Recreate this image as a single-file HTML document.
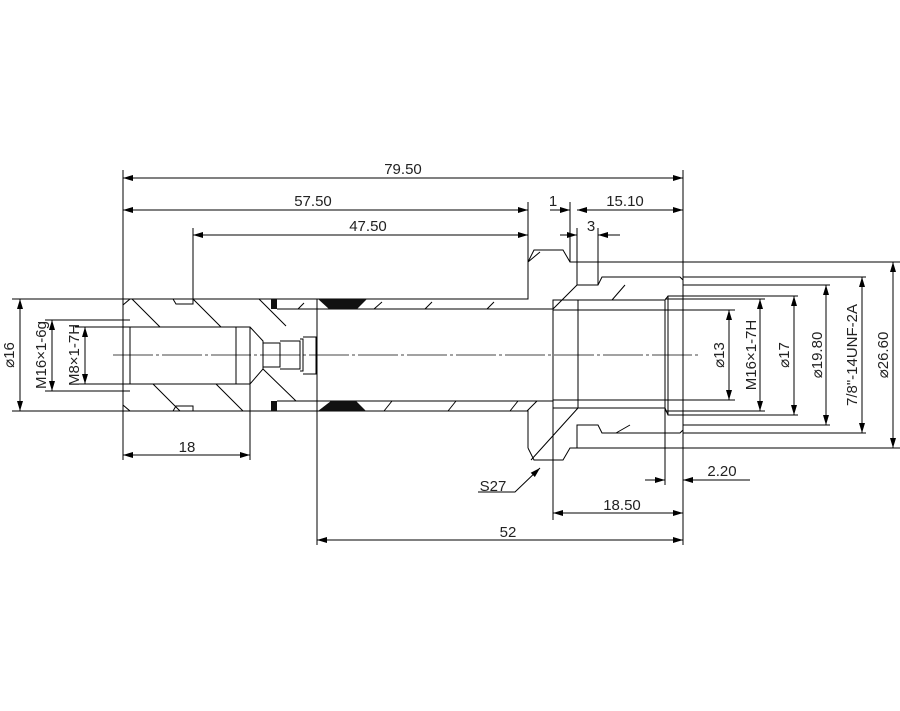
<!DOCTYPE html>
<html><head><meta charset="utf-8"><style>
body{margin:0;background:#fff}
svg{display:block}
text{font-family:"Liberation Sans",sans-serif;font-size:15px;fill:#222}
</style></head><body>
<svg width="900" height="711" viewBox="0 0 900 711" xmlns="http://www.w3.org/2000/svg">
<defs>
<marker id="a" viewBox="0 0 10 6" refX="10" refY="3" markerWidth="10" markerHeight="6" orient="auto-start-reverse" markerUnits="userSpaceOnUse"><path d="M0,0L10,3L0,6z" fill="#000"/></marker>
</defs>
<g stroke="#000" stroke-width="1" fill="none">
<line x1="113" y1="355" x2="700" y2="355" stroke-dasharray="40,3,3,3" stroke="#444"/>
<path d="M123,299 H528 V262"/>
<path d="M123,411 H528 V448"/>
<line x1="123" y1="299" x2="123" y2="411"/>
<path d="M123,305 L130,299 M123,405 L130,411"/>
<path d="M173,299 L176,304 H193 V299 M173,411 L176,406 H193 V411"/>
<rect x="130" y="327" width="106" height="57"/>
<path d="M123,327 H130 M123,384 H130"/>
<path d="M236,327 H250 L263,341 V369 L250,384 H236"/>
<line x1="250" y1="327" x2="250" y2="460"/>
<path d="M132,299 L160,327 M193,299 L221,327 M259,299 L286,326 M263,369 L296,401 M153,384 L180,411 M216,384 L243,411"/>
<path d="M263,343 H280 V367 H263 M280,341 H300 V369 H280 M300,339 H303 V371 H300 M303,337 H316 V374 H303"/>
<line x1="277" y1="309" x2="528" y2="309"/>
<line x1="277" y1="401" x2="553" y2="401"/>
<line x1="317" y1="299" x2="317" y2="545"/>
<path d="M298,309 L304,303 M374,309 L382,302 M425,309 L432,302 M487,309 L494,302 M384,411 L392,401 M448,411 L456,401 M510,411 L518,401 M527,411 L537,401"/>
<path d="M528,262 L534,250 H563 L570,262 H683"/>
<path d="M528,448 L534,460 H563 L570,448 H683"/>
<path d="M577,262 V285 H598 L602,277 H680 L683,280 V430 L680,433 H602 L598,425 H577 V448"/>
<path d="M553,309 V401 M528,309 H553"/>
<rect x="553" y="300" width="25" height="108"/>
<path d="M578,300 H665 V408 H578"/>
<path d="M665,300 L668,296 H683 M665,408 L668,415 H683 M668,296 V415"/>
<path d="M553,309 L577,285 M528,262 L540,252 M612,300 L625,285 M616,433 L630,425 M531,460 L578,408"/>
<line x1="683" y1="170" x2="683" y2="545"/>
<line x1="553" y1="401" x2="553" y2="520"/>
<line x1="665" y1="408" x2="665" y2="485"/>
<line x1="123" y1="170" x2="123" y2="299"/>
<line x1="528" y1="202" x2="528" y2="262"/>
<line x1="193" y1="228" x2="193" y2="299"/>
<line x1="570" y1="202" x2="570" y2="262"/>
<line x1="577" y1="228" x2="577" y2="262"/>
<line x1="598" y1="228" x2="598" y2="285"/>
<line x1="123" y1="411" x2="123" y2="460"/>
<line x1="123" y1="178" x2="683" y2="178" marker-start="url(#a)" marker-end="url(#a)"/>
<line x1="123" y1="210" x2="528" y2="210" marker-start="url(#a)" marker-end="url(#a)"/>
<line x1="193" y1="235" x2="528" y2="235" marker-start="url(#a)" marker-end="url(#a)"/>
<line x1="550" y1="210" x2="570" y2="210" marker-end="url(#a)"/>
<line x1="577" y1="210" x2="683" y2="210" marker-start="url(#a)" marker-end="url(#a)"/>
<line x1="560" y1="235" x2="577" y2="235" marker-end="url(#a)"/>
<line x1="598" y1="235" x2="620" y2="235" marker-start="url(#a)"/>
<line x1="123" y1="455" x2="250" y2="455" marker-start="url(#a)" marker-end="url(#a)"/>
<line x1="317" y1="540" x2="683" y2="540" marker-start="url(#a)" marker-end="url(#a)"/>
<line x1="553" y1="513" x2="683" y2="513" marker-start="url(#a)" marker-end="url(#a)"/>
<line x1="645" y1="480" x2="665" y2="480" marker-end="url(#a)"/>
<line x1="683" y1="480" x2="750" y2="480" marker-start="url(#a)"/>
<path d="M478,492 H515 L540,468" marker-end="url(#a)"/>
<line x1="12" y1="299" x2="123" y2="299"/>
<line x1="12" y1="411" x2="123" y2="411"/>
<line x1="20" y1="299" x2="20" y2="411" marker-start="url(#a)" marker-end="url(#a)"/>
<line x1="45" y1="320" x2="130" y2="320"/>
<line x1="45" y1="391" x2="130" y2="391"/>
<line x1="52" y1="320" x2="52" y2="391" marker-start="url(#a)" marker-end="url(#a)"/>
<line x1="75" y1="327" x2="130" y2="327"/>
<line x1="75" y1="384" x2="130" y2="384"/>
<line x1="85" y1="327" x2="85" y2="384" marker-start="url(#a)" marker-end="url(#a)"/>
<line x1="553" y1="310" x2="735" y2="310"/>
<line x1="553" y1="400" x2="735" y2="400"/>
<line x1="729" y1="310" x2="729" y2="400" marker-start="url(#a)" marker-end="url(#a)"/>
<line x1="665" y1="299" x2="765" y2="299"/>
<line x1="665" y1="411" x2="765" y2="411"/>
<line x1="760" y1="299" x2="760" y2="411" marker-start="url(#a)" marker-end="url(#a)"/>
<line x1="683" y1="296" x2="798" y2="296"/>
<line x1="683" y1="415" x2="798" y2="415"/>
<line x1="794" y1="296" x2="794" y2="415" marker-start="url(#a)" marker-end="url(#a)"/>
<line x1="683" y1="285" x2="830" y2="285"/>
<line x1="683" y1="425" x2="830" y2="425"/>
<line x1="826" y1="285" x2="826" y2="425" marker-start="url(#a)" marker-end="url(#a)"/>
<line x1="683" y1="277" x2="866" y2="277"/>
<line x1="683" y1="433" x2="866" y2="433"/>
<line x1="862" y1="277" x2="862" y2="433" marker-start="url(#a)" marker-end="url(#a)"/>
<line x1="683" y1="262" x2="900" y2="262"/>
<line x1="683" y1="448" x2="900" y2="448"/>
<line x1="893" y1="262" x2="893" y2="448" marker-start="url(#a)" marker-end="url(#a)"/>
</g>
<g fill="#111">
<rect x="271" y="299" width="6" height="10"/>
<rect x="271" y="401" width="6" height="10"/>
<polygon points="318,299 367,299 357,309 329,309"/>
<polygon points="331,401 356,401 366,411 318,411"/>
</g>
<text x="403" y="174" text-anchor="middle">79.50</text>
<text x="313" y="206" text-anchor="middle">57.50</text>
<text x="368" y="231" text-anchor="middle">47.50</text>
<text x="553" y="206" text-anchor="middle">1</text>
<text x="625" y="206" text-anchor="middle">15.10</text>
<text x="591" y="231" text-anchor="middle">3</text>
<text x="187" y="452" text-anchor="middle">18</text>
<text x="508" y="537" text-anchor="middle">52</text>
<text x="622" y="510" text-anchor="middle">18.50</text>
<text x="722" y="476" text-anchor="middle">2.20</text>
<text x="493" y="491" text-anchor="middle" font-size="16">S27</text>
<text transform="translate(14,355) rotate(-90)" text-anchor="middle">⌀16</text>
<text transform="translate(46,355) rotate(-90)" text-anchor="middle">M16×1-6g</text>
<text transform="translate(79,355) rotate(-90)" text-anchor="middle">M8×1-7H</text>
<text transform="translate(724,355) rotate(-90)" text-anchor="middle">⌀13</text>
<text transform="translate(756,355) rotate(-90)" text-anchor="middle">M16×1-7H</text>
<text transform="translate(789,355) rotate(-90)" text-anchor="middle">⌀17</text>
<text transform="translate(822,355) rotate(-90)" text-anchor="middle">⌀19.80</text>
<text transform="translate(857,355) rotate(-90)" text-anchor="middle">7/8"-14UNF-2A</text>
<text transform="translate(888,355) rotate(-90)" text-anchor="middle">⌀26.60</text>
</svg>
</body></html>
